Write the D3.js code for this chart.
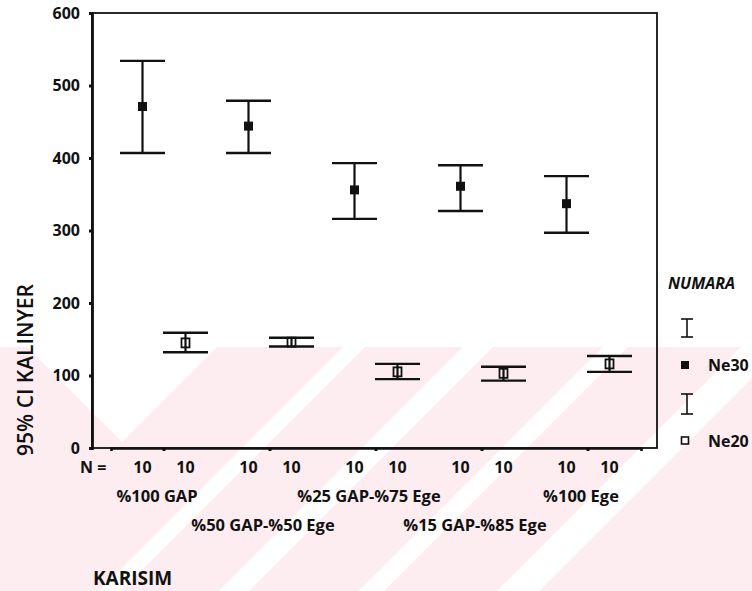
<!DOCTYPE html>
<html>
<head>
<meta charset="utf-8">
<script src="https://cdn.jsdelivr.net/npm/d3@7"></script>
<style>
  html, body { margin: 0; padding: 0; background: #fff; }
  svg { display: block; }
  text { font-family: "Open Sans", "DejaVu Sans", sans-serif; fill: #111; }
</style>
</head>
<body>
<svg id="chart" width="752" height="591"></svg>
<script>
// Mixture groups on the x axis
const categories = ["%100 GAP", "%50 GAP-%50 Ege", "%25 GAP-%75 Ege", "%15 GAP-%85 Ege", "%100 Ege"];
// Yarn counts (series)
const series = ["Ne30", "Ne20"];
// 95% confidence intervals of KALINYER per mixture
const ne30Mean  = [471, 444, 356, 361, 337];
const ne30Lower = [407, 407, 316, 327, 297];
const ne30Upper = [534, 479, 393, 390, 375];
const ne20Mean  = [145, 146, 105, 103, 116];
const ne20Lower = [132, 140, 95, 93, 105];
const ne20Upper = [159, 152, 116, 112, 127];
// Sample sizes per group and series
const ne30N = [10, 10, 10, 10, 10];
const ne20N = [10, 10, 10, 10, 10];
// Value axis ticks
const yTicks = [0, 100, 200, 300, 400, 500, 600];

const svg = d3.select("#chart");
const W = 752, H = 591;
const plot = { left: 92, right: 657, top: 13, bottom: 448 };

// Background band with diagonal stripes
const bg = svg.append("g");
const bandTop = 347;
bg.append("rect").attr("x", 0).attr("y", bandTop).attr("width", W).attr("height", H - bandTop)
  .attr("fill", "#fdedf0");
const diag = [[690, 712], [810, 840], [950, 975], [1088, 1130]];
diag.forEach(([a, b]) => {
  bg.append("polygon")
    .attr("points", [[a - bandTop, bandTop], [b - bandTop, bandTop], [b - H, H], [a - H, H]].join(" "))
    .attr("fill", "#fff");
});
bg.append("polygon").attr("points", "27,347 122,442 217,347").attr("fill", "#fff");

const y = d3.scaleLinear().domain([0, 600]).range([plot.bottom, plot.top]);
const x = d3.scaleBand().domain(categories).range([111, 641]);
const xs = d3.scalePoint().domain(series).range([-21.5, 21.5]);
const cx = (c) => x(c) + x.bandwidth() / 2;

// Frame
svg.append("rect")
  .attr("x", plot.left).attr("y", plot.top)
  .attr("width", plot.right - plot.left).attr("height", plot.bottom - plot.top)
  .attr("fill", "none").attr("stroke", "#111").attr("stroke-width", 1.8);

// Y axis
const yAxis = svg.append("g").attr("transform", `translate(${plot.left},0)`)
  .call(d3.axisLeft(y).tickValues(yTicks).tickSize(3).tickPadding(9).tickFormat(d3.format("d")));
yAxis.select(".domain").attr("stroke", "#111").attr("stroke-width", 2.8);
yAxis.selectAll(".tick line").attr("stroke", "#111").attr("stroke-width", 3);
yAxis.selectAll(".tick text").attr("font-size", 16).attr("font-weight", 700)
  .style("font-family", "'Open Sans', sans-serif").attr("fill", "#111");

// X axis
const xAxis = svg.append("g").attr("transform", `translate(0,${plot.bottom})`)
  .call(d3.axisBottom(x).tickSize(3).tickFormat(""));
xAxis.select(".domain").attr("stroke", "#111").attr("stroke-width", 2.6);
xAxis.selectAll(".tick line").attr("stroke", "#111").attr("stroke-width", 3);

// Sample size row
svg.append("text").attr("x", 80).attr("y", 473).attr("font-size", 16).attr("font-weight", 700).text("N =");
const nRows = [ne30N, ne20N];
categories.forEach((c, i) => {
  series.forEach((s, j) => {
    svg.append("text").attr("x", cx(c) + xs(s)).attr("y", 473)
      .attr("text-anchor", "middle").attr("font-size", 16).attr("font-weight", 700)
      .text(nRows[j][i]);
  });
});

// Category labels, staggered on two rows
categories.forEach((c, i) => {
  svg.append("text").attr("x", cx(c) - 7).attr("y", i % 2 === 0 ? 502 : 531)
    .attr("text-anchor", "middle").attr("font-size", 16.5).attr("font-weight", 700)
    .text(c);
});

// Axis titles
svg.append("text").attr("transform", "translate(33,370) rotate(-90)")
  .attr("text-anchor", "middle").attr("font-size", 21).attr("font-weight", 600)
  .text("95% CI KALINYER");
svg.append("text").attr("x", 93).attr("y", 585).attr("font-size", 19).attr("font-weight", 700)
  .text("KARISIM");

// Error bars
const capHalf = 22.5;
const data = [
  { s: "Ne30", mean: ne30Mean, lo: ne30Lower, hi: ne30Upper, filled: true },
  { s: "Ne20", mean: ne20Mean, lo: ne20Lower, hi: ne20Upper, filled: false }
];
const marks = svg.append("g").attr("stroke", "#111");
data.forEach(d => {
  categories.forEach((c, i) => {
    const px = cx(c) + xs(d.s);
    const g = marks.append("g");
    g.append("line").attr("x1", px).attr("x2", px).attr("y1", y(d.lo[i])).attr("y2", y(d.hi[i]))
      .attr("stroke-width", 2.2);
    [d.lo[i], d.hi[i]].forEach(v => {
      g.append("line").attr("x1", px - capHalf).attr("x2", px + capHalf)
        .attr("y1", y(v)).attr("y2", y(v)).attr("stroke-width", 2.4);
    });
    if (d.filled) {
      g.append("rect").attr("x", px - 4.5).attr("y", y(d.mean[i]) - 4.5).attr("width", 9).attr("height", 9)
        .attr("fill", "#111").attr("stroke", "none");
    } else {
      g.append("rect").attr("x", px - 4).attr("y", y(d.mean[i]) - 4.5).attr("width", 8).attr("height", 9)
        .attr("fill", "none").attr("stroke-width", 1.8);
    }
  });
});

// Legend
const lg = svg.append("g");
lg.append("text").attr("x", 668).attr("y", 289).attr("font-size", 16).attr("font-weight", 700)
  .attr("font-style", "italic").text("NUMARA");
function legendBar(cxp, y1, y2) {
  lg.append("line").attr("x1", cxp).attr("x2", cxp).attr("y1", y1).attr("y2", y2).attr("stroke", "#111").attr("stroke-width", 1.6);
  [y1, y2].forEach(v => lg.append("line").attr("x1", cxp - 6).attr("x2", cxp + 6).attr("y1", v).attr("y2", v)
    .attr("stroke", "#111").attr("stroke-width", 1.6));
}
legendBar(687, 319, 337);
lg.append("rect").attr("x", 681).attr("y", 361).attr("width", 8).attr("height", 8).attr("fill", "#111");
lg.append("text").attr("x", 708).attr("y", 371).attr("font-size", 16).attr("font-weight", 700).text(series[0]);
legendBar(687, 394, 414);
lg.append("rect").attr("x", 681.5).attr("y", 437).attr("width", 7).attr("height", 7)
  .attr("fill", "none").attr("stroke", "#111").attr("stroke-width", 1.6);
lg.append("text").attr("x", 708).attr("y", 447).attr("font-size", 16).attr("font-weight", 700).text(series[1]);
</script>
</body>
</html>
